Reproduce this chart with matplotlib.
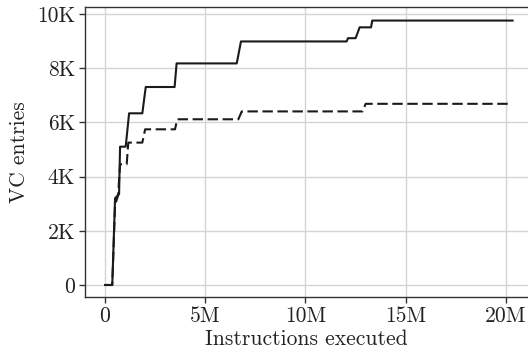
import numpy as np
import matplotlib
matplotlib.use("Agg")
import matplotlib.pyplot as plt
from matplotlib.ticker import FuncFormatter

# instructions executed (millions) / VC entries
solid_x = [0, 0.36, 0.5, 0.7, 0.75, 1.03, 1.2, 1.86, 2.03, 3.47, 3.57, 6.57, 6.78,
           12.05, 12.12, 12.5, 12.7, 13.27, 13.33, 20.33]
solid_y = [0, 0, 3200, 3350, 5100, 5100, 6330, 6330, 7300, 7300, 8170, 8170, 8980,
           8980, 9100, 9100, 9500, 9500, 9750, 9750]

dash_x = [0, 0.36, 0.5, 0.65, 0.75, 1.08, 1.16, 1.86, 2.0, 3.49, 3.6, 6.65, 6.82,
          12.85, 13.0, 20.2]
dash_y = [0, 0, 2950, 3300, 4450, 4450, 5250, 5250, 5740, 5740, 6110, 6110, 6400,
          6400, 6680, 6680]

x_ticks = [0, 5, 10, 15, 20]
y_ticks = [0, 2000, 4000, 6000, 8000, 10000]

plt.rcParams['font.family'] = ['cmr10', 'DejaVu Serif']
plt.rcParams['axes.formatter.use_mathtext'] = True

fig = plt.figure(figsize=(5.28, 3.55), dpi=100)
ax = fig.add_axes([85/528, 58/355, 443/528, 290/355])

ax.plot(np.array(solid_x) * 1e6, solid_y, color="#1a1a1a", lw=1.5, ls="-")
ax.plot(np.array(dash_x) * 1e6, dash_y, color="#1a1a1a", lw=1.5, ls=(0, (5, 2.2)))

ax.set_xlim(-1.0e6, 21.1e6)
ax.set_ylim(-443, 10250)
ax.set_xticks([v * 1e6 for v in x_ticks])
ax.set_yticks(y_ticks)
ax.xaxis.set_major_formatter(FuncFormatter(lambda v, p: "0" if v == 0 else "%dM" % round(v / 1e6)))
ax.yaxis.set_major_formatter(FuncFormatter(lambda v, p: "0" if v == 0 else "%dK" % round(v / 1e3)))

ax.grid(True, color="#d4d4d4", lw=1.0)
ax.set_axisbelow(True)
ax.spines['right'].set_visible(False)
for s in ['left', 'bottom', 'top']:
    ax.spines[s].set_color("#333333")
    ax.spines[s].set_linewidth(1.0)
ax.tick_params(direction="out", length=4, width=1, color="#333333", labelsize=15.5,
               labelcolor="#222222", pad=3)

ax.set_xlabel("Instructions executed", fontsize=15.5, color="#222222", labelpad=2)
ax.set_ylabel("VC entries", fontsize=15.5, color="#222222", labelpad=6)

fig.savefig("out.png", dpi=100)
